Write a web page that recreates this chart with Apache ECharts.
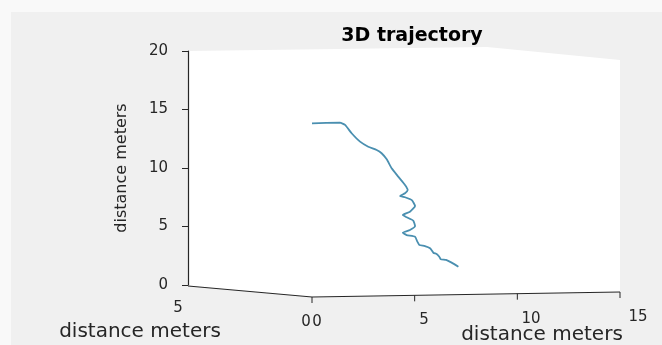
<!DOCTYPE html>
<html>
<head>
<meta charset="utf-8">
<script src="https://cdn.jsdelivr.net/npm/echarts@6/dist/echarts.min.js"></script>
<style>
  html, body { margin: 0; padding: 0; background: #f9f9f9; }
  #chart { width: 662px; height: 345px; }
</style>
</head>
<body>
<div id="chart"></div>
<script>
// ---- data ----
const titleText = '3D trajectory';
const axisName = 'distance meters';
// trajectory (projected): horizontal = front-right floor axis, vertical = height axis
const trajX = [0.0, 1.36, 1.61, 1.93, 2.34, 2.74, 3.15, 3.39, 3.64, 3.88, 4.20, 4.53, 4.66, 4.53, 4.29, 4.53, 4.86, 5.02, 4.77, 4.42, 4.61, 4.93, 5.02, 4.77, 4.42, 4.61, 5.02, 5.13, 5.23, 5.50, 5.75, 5.91, 6.07, 6.20, 6.27, 6.53, 6.80, 7.13];
const trajY = [13.82, 13.87, 13.68, 12.97, 12.25, 11.82, 11.54, 11.26, 10.74, 9.97, 9.26, 8.55, 8.12, 7.84, 7.61, 7.50, 7.26, 6.75, 6.26, 5.98, 5.79, 5.50, 5.04, 4.70, 4.47, 4.27, 4.13, 3.70, 3.42, 3.33, 3.14, 2.76, 2.65, 2.42, 2.20, 2.14, 1.91, 1.56];
const heightTicks = [0, 5, 10, 15, 20];
const floorTicks = [0, 5, 10, 15];      // front-right axis
const sideTicks = [5, 0];               // front-left axis

// ---- projection helpers (decoration geometry, in the cartesian's data space) ----
const X_LEFT = -6.039;                  // where the vertical axis stands
const FLOOR_Y0 = -1.026, FLOOR_Y15 = -0.598, SIDE_Y5 = -0.085;

const chart = echarts.init(document.getElementById('chart'), null, { renderer: 'canvas' });
const FONT = '"DejaVu Sans", sans-serif';
const TXT = '#262626';

function floorData(v) { return [v, FLOOR_Y0 + (v / 15) * (FLOOR_Y15 - FLOOR_Y0)]; }
function sideData(v) { const t = v / 5; return [X_LEFT * t, FLOOR_Y0 + t * (SIDE_Y5 - FLOOR_Y0)]; }

const option = {
  backgroundColor: 'transparent',
  animation: false,
  title: {
    text: titleText,
    left: 407, top: 22, textAlign: 'center',
    textStyle: { fontFamily: FONT, fontSize: 19, fontWeight: 'bold', color: '#000' }
  },
  graphic: [{
    type: 'rect', z: -100, silent: true,
    shape: { x: 11, y: 12, width: 651, height: 333 },
    style: { fill: '#f0f0f0' }
  }],
  grid: { left: 188, right: 42, top: 51, bottom: 60, containLabel: false },
  xAxis: { type: 'value', min: X_LEFT, max: 15, show: false },
  yAxis: {
    type: 'value', min: 0, max: 20, interval: 5,
    name: axisName, nameLocation: 'middle', nameGap: 58,
    nameTextStyle: { fontFamily: FONT, fontSize: 16, color: TXT },
    axisLine: { show: true, onZero: false, lineStyle: { color: TXT, width: 1.2 } },
    axisTick: { show: true, inside: false, length: 6, lineStyle: { color: TXT } },
    axisLabel: { fontFamily: FONT, fontSize: 15, color: TXT, margin: 20 },
    splitLine: { show: false }
  },
  series: [
    {
      // white 3D box background
      type: 'custom', z: -10, silent: true, clip: false,
      data: [[0, 0]],
      renderItem: function (params, api) {
        const pts = [
          api.coord([X_LEFT, 20]),
          api.coord([8.52, 20.34]),
          api.coord([15, 19.23]),
          api.coord(floorData(15)),
          api.coord(floorData(0)),
          api.coord(sideData(5))
        ];
        return { type: 'polygon', shape: { points: pts }, style: { fill: '#ffffff' } };
      }
    },
    {
      // floor axes of the 3D box
      type: 'custom', z: 5, silent: true, clip: false,
      data: [[0, 0]],
      renderItem: function (params, api) {
        const ch = [];
        const a = api.coord(sideData(5)), b = api.coord(floorData(0)), c = api.coord(floorData(15));
        ch.push({ type: 'polyline', shape: { points: [a, b, c] }, style: { stroke: TXT, lineWidth: 1.2, fill: null } });
        floorTicks.forEach(function (v) {
          const p = api.coord(floorData(v));
          ch.push({ type: 'line', shape: { x1: p[0], y1: p[1], x2: p[0], y2: p[1] + 6 }, style: { stroke: TXT, lineWidth: 1 } });
          ch.push({ type: 'text', x: p[0] + 5 + 0.87 * v, y: p[1] + 25,
            style: { text: String(v), fontFamily: FONT, fontSize: 15, fill: TXT, align: 'center', verticalAlign: 'middle' } });
        });
        sideTicks.forEach(function (v) {
          const p = api.coord(sideData(v));
          ch.push({ type: 'text', x: p[0] - 6 - 0.8 * v, y: p[1] + 25 - 0.6 * v,
            style: { text: String(v), fontFamily: FONT, fontSize: 15, fill: TXT, align: 'center', verticalAlign: 'middle' } });
        });
        const fn = api.coord(floorData(11.2));
        ch.push({ type: 'text', x: fn[0], y: fn[1] + 42,
          style: { text: axisName, fontFamily: FONT, fontSize: 20, fill: TXT, align: 'center', verticalAlign: 'middle' } });
        const sn = api.coord(sideData(5));
        ch.push({ type: 'text', x: sn[0] - 48, y: sn[1] + 46,
          style: { text: axisName, fontFamily: FONT, fontSize: 20, fill: TXT, align: 'center', verticalAlign: 'middle' } });
        return { type: 'group', children: ch };
      }
    },
    {
      name: 'trajectory',
      type: 'line', z: 4,
      data: trajX.map(function (x, i) { return [x, trajY[i]]; }),
      smooth: 0.15,
      showSymbol: false,
      lineStyle: { color: '#4a8fb0', width: 1.8 }
    }
  ]
};
chart.setOption(option);
</script>
</body>
</html>
